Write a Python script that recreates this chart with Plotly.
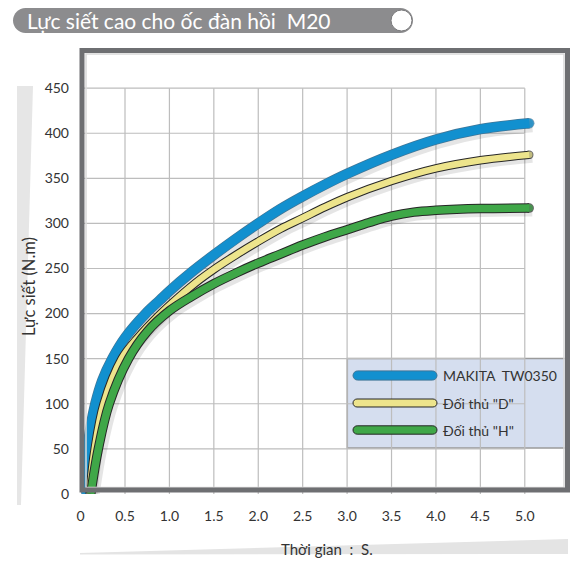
import plotly.graph_objects as go

# ---------------- data ----------------
makita_t = [0.065, 0.08, 0.114, 0.166, 0.245, 0.357, 0.507, 0.733, 0.894, 1.00, 1.25, 1.50, 1.75, 2.00, 2.25, 2.50, 2.75, 3.00, 3.50, 4.00, 4.50, 5.05]
makita_f = [0, 50, 75, 100, 126, 150, 174, 200, 215, 225, 246, 265, 283, 300, 316, 330, 343, 355, 376, 393, 404.5, 411]

d_t = [0.10, 0.159, 0.26, 0.463, 0.65, 0.89, 1.10, 1.345, 1.50, 1.75, 2.00, 2.25, 2.50, 2.75, 3.00, 3.50, 4.00, 4.50, 5.05]
d_f = [0, 50, 100, 150, 174, 199, 218, 238, 249, 265, 280, 294, 306, 318, 329, 347, 361, 370, 376]

h_t = [0.115, 0.20, 0.323, 0.54, 0.75, 1.00, 1.25, 1.50, 1.75, 2.00, 2.25, 2.50, 2.75, 3.00, 3.25, 3.50, 3.75, 4.00, 4.50, 5.05]
h_f = [0, 50, 100, 150, 180, 203, 219, 233, 245, 256, 266, 276, 285, 293, 301, 308, 312.5, 314.5, 316.5, 317]

series_names = ["MAKITA  TW0350", "Đối thủ \"D\"", "Đối thủ \"H\""]

x_tickvals = [0, 0.5, 1.0, 1.5, 2.0, 2.5, 3.0, 3.5, 4.0, 4.5, 5.0]
x_ticktext = ["0", "0.5", "1.0", "1.5", "2.0", "2.5", "3.0", "3.5", "4.0", "4.5", "5.0"]
y_tickvals = [0, 50, 100, 150, 200, 250, 300, 350, 400, 450]
y_ticktext = ["0", "50", "100", "150", "200", "250", "300", "350", "400", "450"]

title_text = "Lực siết cao cho ốc đàn hồi  M20"
y_title = "Lực siết (N.m)"
x_title = "Thời gian  :  S."

# ---------------- layout geometry ----------------
W, H = 572, 562
L, T = 80, 50
PW, PH = 488, 444
FONT = "Lato, 'Noto Sans', sans-serif"


def px(x):
    return (x - L) / PW


def py(y):
    return (T + PH - y) / PH


def path(cmds):
    out = []
    for c in cmds:
        if isinstance(c, str):
            out.append(c)
        else:
            out.append(f"{px(c[0]):.5f},{py(c[1]):.5f}")
    return " ".join(out)


def capsule(x0, x1, yc, r):
    k = 0.5523 * r
    return path([
        "M", (x0 + r, yc - r), "L", (x1 - r, yc - r),
        "C", (x1 - r + k, yc - r), (x1, yc - k), (x1, yc),
        "C", (x1, yc + k), (x1 - r + k, yc + r), (x1 - r, yc + r),
        "L", (x0 + r, yc + r),
        "C", (x0 + r - k, yc + r), (x0, yc + k), (x0, yc),
        "C", (x0, yc - k), (x0 + r - k, yc - r), (x0 + r, yc - r), "Z",
    ])


fig = go.Figure()

styles = [
    # (t, f, outline colour, outline width, fill colour, fill width)
    (makita_t, makita_f, "#3f7698", 10.5, "#1290cf", 9),
    (d_t, d_f, "#262626", 8.5, "#ede48c", 6.5),
    (h_t, h_f, "#262626", 9.5, "#3fa748", 7.5),
]

# soft shadows under the curves
for t, f, oc, ow, fc, fw in styles:
    fig.add_trace(go.Scatter(
        x=[v + 0.035 for v in t], y=[v - 3.5 for v in f], mode="lines",
        line=dict(color="rgba(0,0,0,0.10)", width=ow + 1, shape="spline", smoothing=1),
        hoverinfo="skip", showlegend=False))

for t, f, oc, ow, fc, fw in styles:
    n = len(t)
    fig.add_trace(go.Scatter(
        x=t, y=f, mode="lines+markers",
        line=dict(color=oc, width=ow, shape="spline", smoothing=1),
        marker=dict(size=[0] * (n - 1) + [ow], color=oc, line=dict(width=0)),
        hoverinfo="skip", showlegend=False))
    fig.add_trace(go.Scatter(
        x=t, y=f, mode="lines+markers",
        line=dict(color=fc, width=fw, shape="spline", smoothing=1),
        marker=dict(size=[0] * (n - 1) + [fw], color=fc, line=dict(width=0)),
        hoverinfo="skip", showlegend=False))

shapes = []
# axis-title wedges
shapes.append(dict(type="path", xref="paper", yref="paper", layer="below",
                   path=path(["M", (17, 86), "L", (33, 86), "L", (21, 505), "L", (17, 505), "Z"]),
                   fillcolor="#e6e6e6", line=dict(width=0)))
shapes.append(dict(type="path", xref="paper", yref="paper", layer="below",
                   path=path(["M", (80, 553), "L", (568, 539), "L", (568, 554), "L", (80, 554.5), "Z"]),
                   fillcolor="#e4e4e4", line=dict(width=0)))
# title banner
shapes.append(dict(type="path", xref="paper", yref="paper", layer="below",
                   path=capsule(13, 413, 20.5, 12.5), fillcolor="#8c8c8e",
                   line=dict(width=0)))
shapes.append(dict(type="circle", xref="paper", yref="paper", layer="above",
                   x0=px(391), x1=px(412), y0=py(10), y1=py(31),
                   fillcolor="#ffffff", line=dict(color="#7a7a7c", width=1)))

# grid
for v in x_tickvals[1:]:
    shapes.append(dict(type="line", xref="x", yref="y", layer="below",
                       x0=v, x1=v, y0=0, y1=450, line=dict(color="#bdbdbd", width=1.2)))
for v in y_tickvals[1:]:
    shapes.append(dict(type="line", xref="x", yref="y", layer="below",
                       x0=0, x1=5.0, y0=v, y1=v, line=dict(color="#bdbdbd", width=1.2)))

# legend box
shapes.append(dict(type="rect", xref="paper", yref="paper", layer="below",
                   x0=px(347.3), x1=px(568), y0=py(448), y1=py(358.5),
                   fillcolor="#d5deef", line=dict(color="#9b9b9b", width=1.5)))

# frame
shapes.append(dict(type="rect", xref="paper", yref="paper", layer="above",
                   x0=px(86), x1=px(564), y0=py(487.5), y1=py(54),
                   line=dict(color="#d9d9d9", width=1.5)))
shapes.append(dict(type="rect", xref="paper", yref="paper", layer="above",
                   x0=px(82), x1=px(567.5), y0=py(490), y1=py(50.5),
                   line=dict(color="#6e6f72", width=5)))

# legend samples
leg_y = [375.5, 403, 430]
leg_style = [("#1290cf", "#3f7698", 4.6), ("#ede48c", "#262626", 4.0), ("#3fa748", "#262626", 4.2)]
annotations = []
for (fc, oc, r), yy, name in zip(leg_style, leg_y, series_names):
    shapes.append(dict(type="path", xref="paper", yref="paper", layer="above",
                       path=capsule(353, 437, yy, r), fillcolor=fc,
                       line=dict(color=oc, width=1)))
    annotations.append(dict(xref="paper", yref="paper", x=px(441), y=py(yy),
                            xanchor="left", yanchor="middle", showarrow=False,
                            text=name, font=dict(family=FONT, size=14, color="#333333")))

annotations.append(dict(xref="paper", yref="paper", x=px(25), y=py(20.5),
                        xanchor="left", yanchor="middle", showarrow=False,
                        text=title_text, font=dict(family=FONT, size=21, color="#ffffff")))
annotations.append(dict(xref="paper", yref="paper", x=px(29), y=py(287),
                        xanchor="center", yanchor="middle", showarrow=False, textangle=-90,
                        text=y_title, font=dict(family=FONT, size=16.5, color="#333333")))
annotations.append(dict(xref="paper", yref="paper", x=px(327), y=py(549),
                        xanchor="center", yanchor="middle", showarrow=False,
                        text=x_title, font=dict(family=FONT, size=15, color="#333333")))

fig.update_layout(
    width=W, height=H,
    margin=dict(l=L, r=W - L - PW, t=T, b=H - T - PH, pad=0),
    paper_bgcolor="#ffffff", plot_bgcolor="#ffffff",
    showlegend=False,
    shapes=shapes, annotations=annotations,
    font=dict(family=FONT, color="#333333"),
    xaxis=dict(range=[-0.0065, 5.4865], tickvals=x_tickvals, ticktext=x_ticktext,
               showgrid=False, zeroline=False, showline=False, ticks="",
               tickfont=dict(family=FONT, size=14, color="#333333"),
               ticklabelstandoff=12, fixedrange=True),
    yaxis=dict(range=[-0.1, 492.3], tickvals=y_tickvals, ticktext=y_ticktext,
               showgrid=False, zeroline=False, showline=False, ticks="",
               tickfont=dict(family=FONT, size=14, color="#333333"),
               ticklabelstandoff=10, fixedrange=True),
)

fig.write_html(
    "out.html",
    config={"displayModeBar": False},
    post_script="document.body.style.margin='0';document.body.style.overflow='hidden';",
)
